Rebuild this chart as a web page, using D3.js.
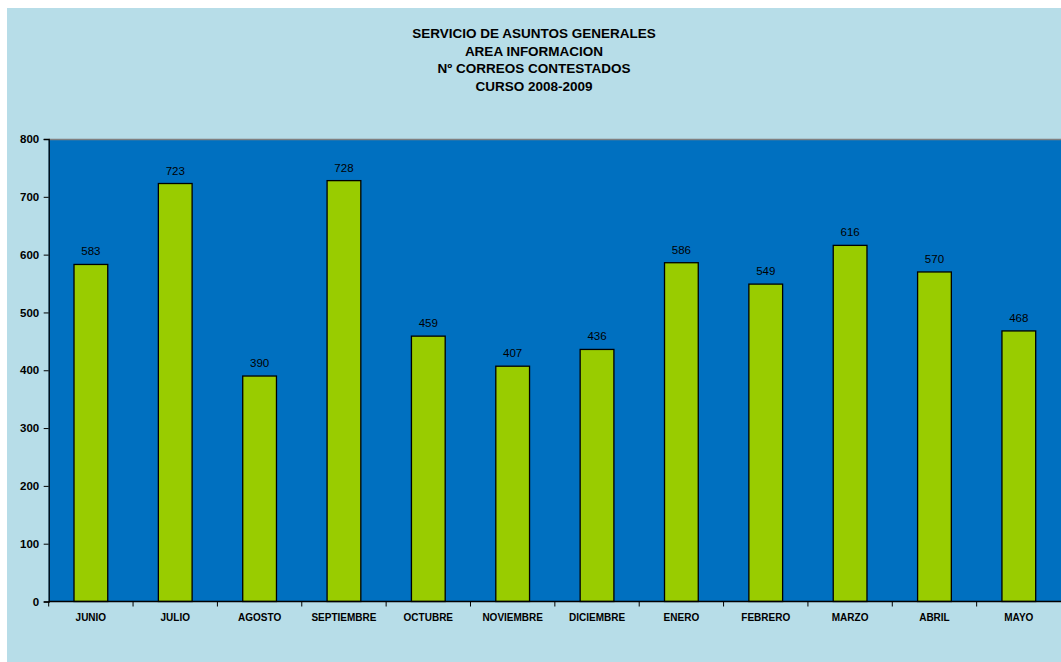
<!DOCTYPE html>
<html>
<head>
<meta charset="utf-8">
<script src="https://cdn.jsdelivr.net/npm/d3@7"></script>
<style>
  html, body { margin: 0; background: #B7DDE8; overflow: hidden; }
  svg { display: block; font-family: "Liberation Sans", Arial, sans-serif; }
</style>
</head>
<body>
<svg width="1061" height="662"></svg>
<script>
// data
var months = ["JUNIO", "JULIO", "AGOSTO", "SEPTIEMBRE", "OCTUBRE", "NOVIEMBRE",
              "DICIEMBRE", "ENERO", "FEBRERO", "MARZO", "ABRIL", "MAYO"];
var correos = [583, 723, 390, 728, 459, 407, 436, 586, 549, 616, 570, 468];
var yTicks = [0, 100, 200, 300, 400, 500, 600, 700, 800];
var titleLines = ["SERVICIO DE ASUNTOS GENERALES", "AREA INFORMACION",
                  "Nº CORREOS CONTESTADOS", "CURSO 2008-2009"];

var svg = d3.select("svg"),
    margin = {top: 139, right: 0, bottom: 60.5, left: 48.7},
    width = +svg.attr("width") - margin.left - margin.right,
    height = +svg.attr("height") - margin.top - margin.bottom;

// outer chart area (light blue), small white edge on left/top
svg.append("rect")
    .attr("width", 1061).attr("height", 662)
    .attr("fill", "#fff");
svg.append("rect")
    .attr("x", 7).attr("y", 8)
    .attr("width", 1061 - 7).attr("height", 662 - 8)
    .attr("fill", "#B7DDE8");

// title
svg.append("g")
    .attr("font-weight", "bold")
    .attr("font-size", 13.5)
    .attr("text-anchor", "middle")
  .selectAll("text")
  .data(titleLines)
  .enter().append("text")
    .attr("x", 534)
    .attr("y", function(d, i) { return 38 + i * 17.7; })
    .text(function(d) { return d; });

var g = svg.append("g").attr("transform", "translate(" + margin.left + "," + margin.top + ")");

var x = d3.scaleBand()
    .domain(months)
    .range([0, width])
    .paddingInner(0.6)
    .paddingOuter(0.3);

var y = d3.scaleLinear()
    .domain([0, 800])
    .range([height, 0]);

// plot area
g.append("rect")
    .attr("width", width)
    .attr("height", height)
    .attr("fill", "#0070C0");
g.append("line")
    .attr("x1", 0).attr("x2", width)
    .attr("y1", 0.5).attr("y2", 0.5)
    .attr("stroke", "#808080")
    .attr("stroke-width", 1.5);

// bars
g.selectAll(".bar")
  .data(correos)
  .enter().append("rect")
    .attr("class", "bar")
    .attr("x", function(d, i) { return x(months[i]); })
    .attr("y", function(d) { return y(d); })
    .attr("width", x.bandwidth())
    .attr("height", function(d) { return height - y(d); })
    .attr("fill", "#99CC00")
    .attr("stroke", "#000")
    .attr("stroke-width", 1.3);

// value labels
g.selectAll(".lbl")
  .data(correos)
  .enter().append("text")
    .attr("class", "lbl")
    .attr("x", function(d, i) { return x(months[i]) + x.bandwidth() / 2; })
    .attr("y", function(d) { return y(d) - 9; })
    .attr("text-anchor", "middle")
    .attr("font-size", 11.5)
    .attr("fill", "#000")
    .text(function(d) { return d; });

// y axis
var yAxis = g.append("g")
    .call(d3.axisLeft(y).tickValues(yTicks).tickSize(5).tickPadding(4.5));
yAxis.select(".domain").attr("stroke", "#000").attr("stroke-width", 1.3);
yAxis.selectAll("text")
    .attr("font-family", "Liberation Sans, Arial, sans-serif")
    .attr("font-size", 11.5)
    .attr("font-weight", "bold")
    .attr("fill", "#000");

// x axis: ticks between categories
var xAxis = g.append("g").attr("transform", "translate(0," + height + ")");
xAxis.append("line")
    .attr("x1", 0).attr("x2", width)
    .attr("stroke", "#000").attr("stroke-width", 1.3);
xAxis.selectAll(".tk")
  .data(months)
  .enter().append("line")
    .attr("class", "tk")
    .attr("x1", function(d) { return x(d) - (x.step() - x.bandwidth()) / 2; })
    .attr("x2", function(d) { return x(d) - (x.step() - x.bandwidth()) / 2; })
    .attr("y1", 0).attr("y2", 5)
    .attr("stroke", "#000");
xAxis.selectAll(".xl")
  .data(months)
  .enter().append("text")
    .attr("class", "xl")
    .attr("x", function(d) { return x(d) + x.bandwidth() / 2; })
    .attr("y", 19.5)
    .attr("text-anchor", "middle")
    .attr("font-size", 10)
    .attr("font-weight", "bold")
    .attr("fill", "#000")
    .text(function(d) { return d; });
</script>
</body>
</html>
